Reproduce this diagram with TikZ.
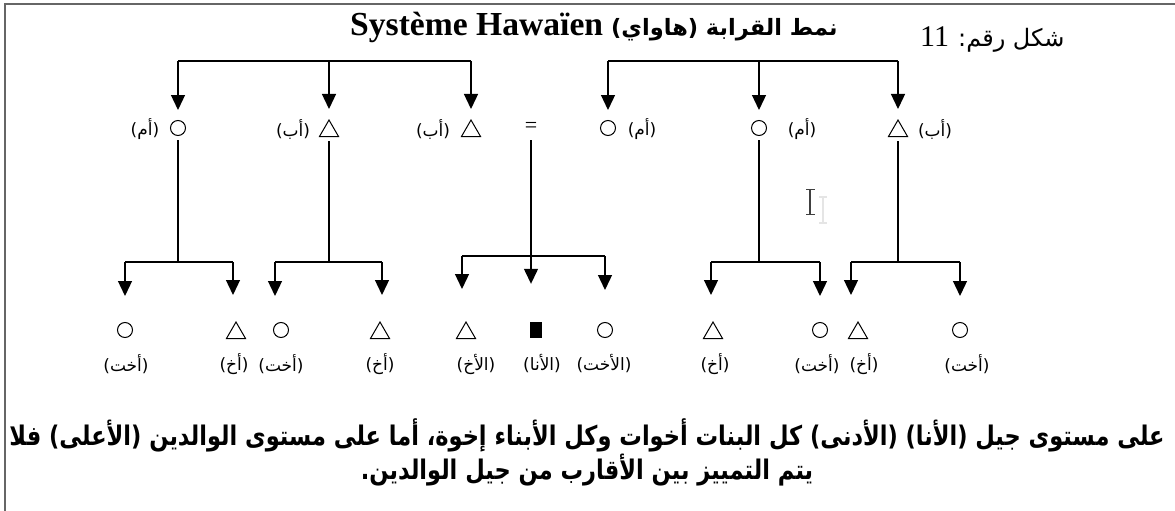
\documentclass[tikz,border=0pt]{standalone}
\usepackage{fontspec}
\usepackage{graphicx}
\setmainfont{Liberation Serif}
\newfontfamily\arabicfont[Script=Arabic]{DejaVu Sans}
\TeXXeTstate=1
\usetikzlibrary{arrows.meta,shapes.geometric}
\begin{document}
\begin{tikzpicture}[x=1pt,y=-1pt,
  fem/.style={circle,draw,line width=1pt,minimum size=15pt,inner sep=0pt},
  mal/.style={regular polygon,regular polygon sides=3,draw,line width=1pt,minimum size=22pt,inner sep=0pt},
  egosq/.style={rectangle,fill=black,minimum width=12pt,minimum height=16pt,inner sep=0pt},
  lab/.style={font=\arabicfont\fontsize{17}{19}\selectfont,inner sep=0pt},
  conn/.style={line width=1.3pt},
  arrT/.style={conn,-{Triangle[width=14pt,length=15pt]},shorten >=10pt},
  arrB/.style={conn,-{Triangle[width=14pt,length=15pt]},shorten >=26pt},
  arrC/.style={conn,-{Triangle[width=14pt,length=15pt]},shorten >=38pt},
  frame/.style={draw=black!60,line width=1.5pt},
  cursor/.style={draw=black!75,line width=1.2pt}
]
\useasboundingbox (0,0) rectangle (1175,511);
% frame
\draw[frame] (5,511) -- (5,4) -- (1175,4);
% title
\node[anchor=base west,inner sep=0pt,font=\bfseries\fontsize{33.6}{36}\selectfont] (tEn) at (350,36) {Système Hawaïen};
\node[anchor=base west,inner sep=0pt,font=\arabicfont\bfseries\fontsize{22.5}{28}\selectfont] (tAr) at (611,36) {\beginR نمط القرابة (هاواي)\endR};
\node[anchor=base west,inner sep=0pt,font=\fontsize{30}{32}\selectfont] (fnum) at (920,47) {11};
\node[anchor=base west,inner sep=0pt,font=\arabicfont\fontsize{24}{28}\selectfont] (flab) at (958,47) {\beginR شكل رقم:\endR};
% parents' generation
\node[fem] (pm1) at (178,128) {};
\node[mal] (pf1) at (329,131) {};
\node[mal] (pf2) at (471,131) {};
\node[inner sep=0pt,font=\fontsize{22}{24}\selectfont] (eq) at (531,127) {=};
\node[fem] (pm2) at (608,128) {};
\node[fem] (pm3) at (759,128) {};
\node[mal] (pf3) at (898,131) {};
\node[lab] (lpm1) at (145,129) {\beginR(أم)\endR};
\node[lab] (lpf1) at (293,129) {\beginR(أب)\endR};
\node[lab] (lpf2) at (433,129) {\beginR(أب)\endR};
\node[lab] (lpm2) at (642,129) {\beginR(أم)\endR};
\node[lab] (lpm3) at (802,129) {\beginR(أم)\endR};
\node[lab] (lpf3) at (935,129) {\beginR(أب)\endR};
% top brackets
\coordinate (a1) at (178,61);
\coordinate (a2) at (329,61);
\coordinate (a3) at (471,61);
\coordinate (b1) at (608,61);
\coordinate (b2) at (759,61);
\coordinate (b3) at (898,61);
\draw[conn] (a1) -- (a3);
\draw[conn] (b1) -- (b3);
\draw[arrT] (a1) -- (pm1.north);
\draw[arrT] (a2) -- (pf1.north);
\draw[arrT] (a3) -- (pf2.north);
\draw[arrT] (b1) -- (pm2.north);
\draw[arrT] (b2) -- (pm3.north);
\draw[arrT] (b3) -- (pf3.north);
% ego generation
\node[fem] (c1) at (125,330) {};
\node[mal] (c2) at (236,333) {};
\node[fem] (c3) at (281,330) {};
\node[mal] (c4) at (380,333) {};
\node[mal] (c5) at (466,333) {};
\node[egosq] (ego) at (536,330) {};
\node[fem] (c7) at (605,330) {};
\node[mal] (c8) at (713,333) {};
\node[fem] (c9) at (820,330) {};
\node[mal] (c10) at (858,333) {};
\node[fem] (c11) at (960,330) {};
\node[lab] (lc1) at (126,364) {\beginR(أخت)\endR};
\node[lab] (lc2) at (234,364) {\beginR(أخ)\endR};
\node[lab] (lc3) at (281,364) {\beginR(أخت)\endR};
\node[lab] (lc4) at (380,364) {\beginR(أخ)\endR};
\node[lab] (lc5) at (476,364) {\beginR(الأخ)\endR};
\node[lab] (lc6) at (542,364) {\beginR(الأنا)\endR};
\node[lab] (lc7) at (604,364) {\beginR(الأخت)\endR};
\node[lab] (lc8) at (715,364) {\beginR(أخ)\endR};
\node[lab] (lc9) at (817,364) {\beginR(أخت)\endR};
\node[lab] (lc10) at (864,364) {\beginR(أخ)\endR};
\node[lab] (lc11) at (967,364) {\beginR(أخت)\endR};
% bottom brackets
\coordinate (d1) at (178,262);
\coordinate (d1l) at (125,262);
\coordinate (d1r) at (233,262);
\coordinate (d2) at (329,262);
\coordinate (d2l) at (275,262);
\coordinate (d2r) at (382,262);
\coordinate (eqb) at (531,140);
\coordinate (d3l) at (462,256);
\coordinate (d3r) at (605,256);
\coordinate (d4) at (759,262);
\coordinate (d4l) at (711,262);
\coordinate (d4r) at (820,262);
\coordinate (d5) at (898,262);
\coordinate (d5l) at (851,262);
\coordinate (d5r) at (960,262);
\draw[conn,shorten <=4pt] (pm1.south) -- (d1);
\draw[conn] (d1l) -- (d1r);
\draw[arrB] (d1l) -- (d1l |- c1.north);
\draw[arrB] (d1r) -- (d1r |- c2.north);
\draw[conn,shorten <=4pt] (pf1.south) -- (d2);
\draw[conn] (d2l) -- (d2r);
\draw[arrB] (d2l) -- (d2l |- c3.north);
\draw[arrB] (d2r) -- (d2r |- c4.north);
\draw[conn] (d3l) -- (d3r);
\draw[arrC] (eqb) -- (eqb |- ego.north);
\draw[arrC,shorten >=32pt] (d3l) -- (d3l |- c5.north);
\draw[arrC,shorten >=32pt] (d3r) -- (d3r |- c7.north);
\draw[conn,shorten <=4pt] (pm3.south) -- (d4);
\draw[conn] (d4l) -- (d4r);
\draw[arrB] (d4l) -- (d4l |- c8.north);
\draw[arrB] (d4r) -- (d4r |- c9.north);
\draw[conn,shorten <=4pt] (pf3.south) -- (d5);
\draw[conn] (d5l) -- (d5r);
\draw[arrB] (d5l) -- (d5l |- c10.north);
\draw[arrB] (d5r) -- (d5r |- c11.north);
% text cursor
\draw[cursor] (810,189) -- (810,214);
\draw[cursor,line width=1pt] (806,189) -- (815,189) (806,214) -- (815,214);
\draw[draw=black!10,line width=1.5pt] (823,197) -- (823,223) (819,197) -- (827,197) (819,223) -- (827,223);
% caption
\node[inner sep=0pt] (cap) at (587,454) {\scalebox{1}[1.2]{\resizebox{1155pt}{!}{\arabicfont\bfseries\begin{tabular}{@{}c@{}}\beginR على مستوى جيل (الأنا) (الأدنى) كل البنات أخوات وكل الأبناء إخوة، أما على مستوى الوالدين (الأعلى) فلا\endR\\[-0.5pt]\beginR يتم التمييز بين الأقارب من جيل الوالدين.\endR\end{tabular}}}};
\end{tikzpicture}
\end{document}
